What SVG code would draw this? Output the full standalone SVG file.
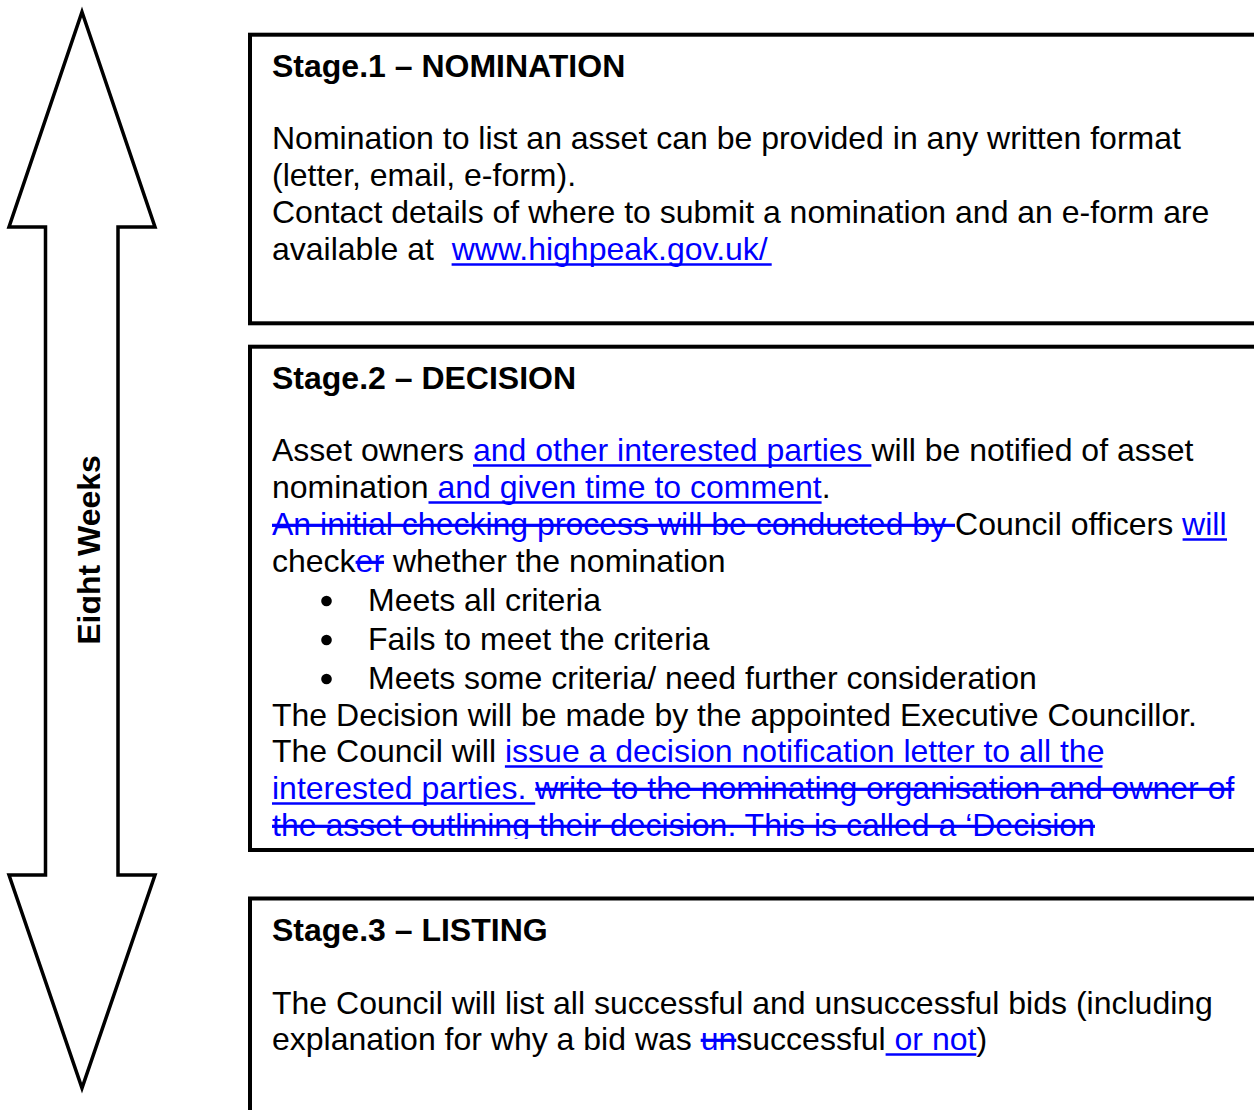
<svg xmlns="http://www.w3.org/2000/svg" width="1254" height="1110" viewBox="0 0 1254 1110">
  <style>
    .frame { fill: #ffffff; stroke: #000000; stroke-width: 4; }
    .arrow { fill: #ffffff; stroke: #000000; stroke-width: 3.5; stroke-linejoin: miter; stroke-miterlimit: 12; }
    text { font-family: "Liberation Sans", Arial, sans-serif; font-size: 32px; fill: #000000; }
    .title { font-weight: bold; }
    .ins { fill: #0000ff; }
    .del { fill: #0000ff; text-decoration: line-through; text-decoration-thickness: 2.4px; }
    .uline { stroke: #0000ff; stroke-width: 2.6; fill: none; }
    .dot { fill: #000000; }
  </style>
  <defs>
    <clipPath id="label-clip">
      <rect x="40" y="200" width="60.5" height="700"/>
    </clipPath>
    <clipPath id="stage2-clip">
      <rect x="250" y="346" width="1010" height="493"/>
    </clipPath>
  </defs>

  <rect width="1254" height="1110" fill="#ffffff"/>

  <!-- Double-headed block arrow spanning the three stages -->
  <g id="timeline">
    <polygon class="arrow" points="82,12 155,227 118,227 118,875 155,875 82,1088 9,875 45.5,875 45.5,227 9,227"/>
    <g clip-path="url(#label-clip)">
      <text class="title" text-anchor="middle" transform="translate(100,550) rotate(-90)">Eight Weeks</text>
    </g>
  </g>

  <!-- Stage 1 -->
  <g id="stage1">
    <rect class="frame" x="250" y="34.7" width="1100" height="288.6"/>
    <text class="title" x="272" y="77">Stage.1 – NOMINATION</text>
    <text x="272" y="149">Nomination to list an asset can be provided in any written format</text>
    <text x="272" y="186">(letter, email, e-form).</text>
    <text x="272" y="223">Contact details of where to submit a nomination and an e-form are</text>
    <text x="272" y="260" xml:space="preserve">available at  <tspan class="ins">www.highpeak.gov.uk/</tspan></text>
    <line class="uline" x1="451.6" y1="264.5" x2="771.7" y2="264.5"/>
  </g>

  <!-- Stage 2 -->
  <g id="stage2">
    <rect class="frame" x="250" y="346.7" width="1100" height="503.3"/>
    <text class="title" x="272" y="389">Stage.2 – DECISION</text>
    <g clip-path="url(#stage2-clip)">
      <text x="272" y="461" xml:space="preserve">Asset owners <tspan class="ins">and other interested parties </tspan>will be notified of asset</text>
      <text x="272" y="498" xml:space="preserve">nomination<tspan class="ins"> and given time to comment</tspan>.</text>
      <text x="272" y="535" xml:space="preserve"><tspan class="del">An initial checking process will be conducted by </tspan>Council officers <tspan class="ins">will</tspan></text>
      <text x="272" y="572" xml:space="preserve">check<tspan class="del">er</tspan> whether the nomination</text>
      <circle class="dot" cx="326.5" cy="601" r="5.3"/>
      <text x="368" y="611">Meets all criteria</text>
      <circle class="dot" cx="326.5" cy="640" r="5.3"/>
      <text x="368" y="650">Fails to meet the criteria</text>
      <circle class="dot" cx="326.5" cy="679" r="5.3"/>
      <text x="368" y="689">Meets some criteria/ need further consideration</text>
      <text x="272" y="726">The Decision will be made by the appointed Executive Councillor.</text>
      <text x="272" y="762" xml:space="preserve">The Council will <tspan class="ins">issue a decision notification letter to all the</tspan></text>
      <text x="272" y="799" xml:space="preserve"><tspan class="ins">interested parties. </tspan><tspan class="del">write to the nominating organisation and owner of</tspan></text>
      <text x="272" y="836" xml:space="preserve"><tspan class="del">the asset outlining their decision. This is called a ‘Decision</tspan></text>
      <!-- underlines for inserted wording -->
      <line class="uline" x1="473" y1="465.5" x2="871.4" y2="465.5"/>
      <line class="uline" x1="428.5" y1="502.5" x2="821.6" y2="502.5"/>
      <line class="uline" x1="1182.6" y1="539.5" x2="1227" y2="539.5"/>
      <line class="uline" x1="504.9" y1="766.5" x2="1102.5" y2="766.5"/>
      <line class="uline" x1="272" y1="803.5" x2="535.2" y2="803.5"/>
    </g>
  </g>

  <!-- Stage 3 -->
  <g id="stage3">
    <rect class="frame" x="250" y="898.5" width="1100" height="300"/>
    <text class="title" x="272" y="941">Stage.3 – LISTING</text>
    <text x="272" y="1014">The Council will list all successful and unsuccessful bids (including</text>
    <text x="272" y="1050" xml:space="preserve">explanation for why a bid was <tspan class="del">un</tspan>successful<tspan class="ins"> or not</tspan>)</text>
    <line class="uline" x1="885.6" y1="1054.5" x2="976.3" y2="1054.5"/>
  </g>
</svg>
